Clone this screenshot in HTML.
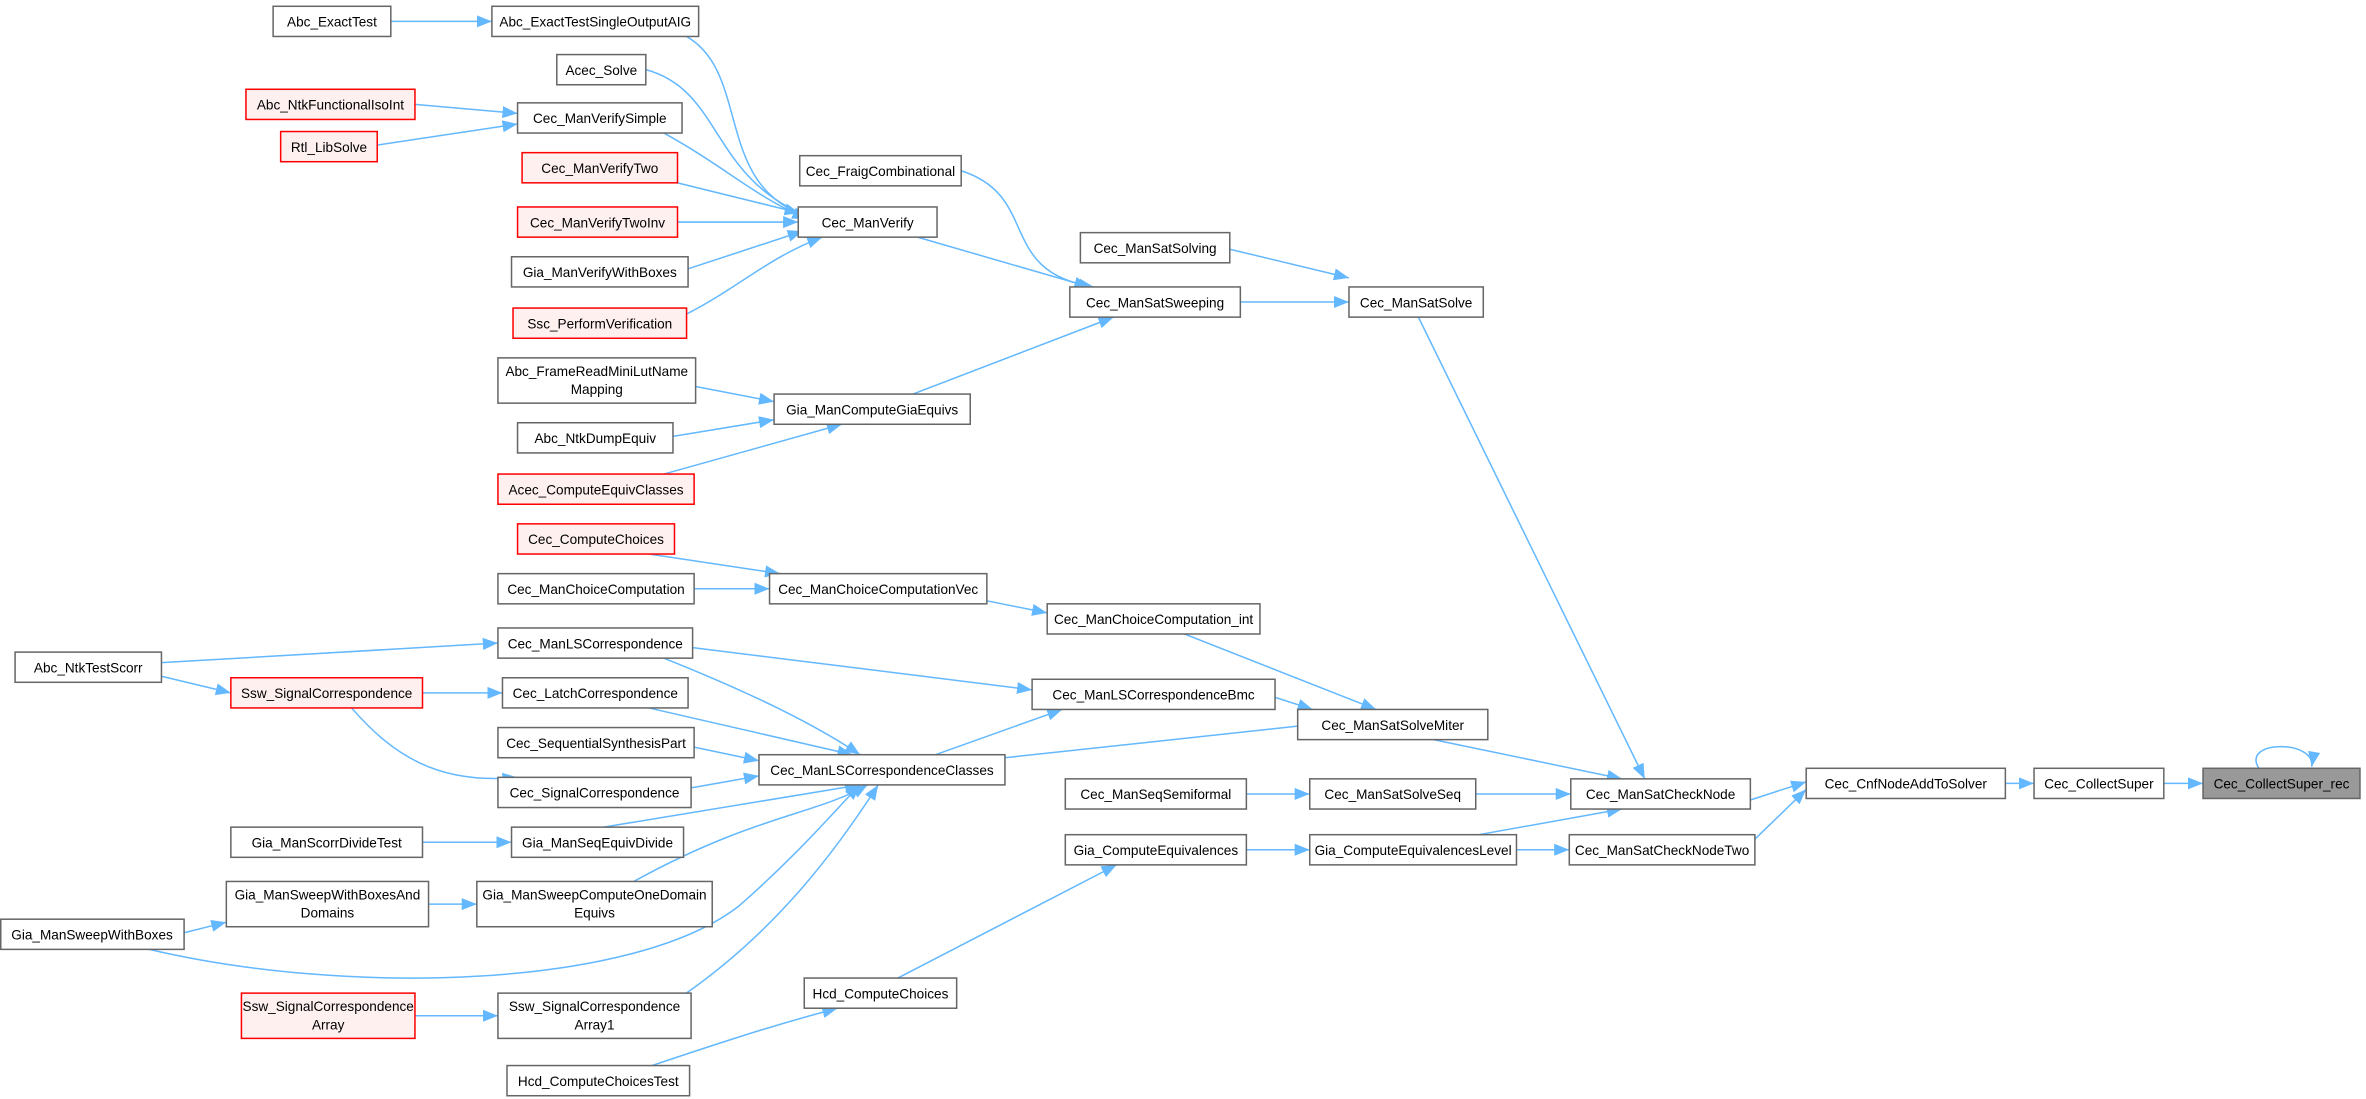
<!DOCTYPE html>
<html><head><meta charset="utf-8"><style>
html,body{margin:0;padding:0;background:#fff;}
svg{display:block;}
text{font-family:"Liberation Sans",Arial,sans-serif;font-size:9px;fill:#000;text-anchor:middle;}
.n{fill:#fff;stroke:#666;stroke-width:1;}
.r{fill:#fff0f0;stroke:#f00;stroke-width:1;}
.g{fill:#999;stroke:#666;stroke-width:1;}
path.e{fill:none;stroke:#63b8ff;stroke-width:1;marker-end:url(#a);}
</style></head><body>
<svg width="2366" height="1099" viewBox="0 0 1568 728" xmlns="http://www.w3.org/2000/svg">
<defs><marker id="a" markerUnits="userSpaceOnUse" markerWidth="10" markerHeight="8" refX="10" refY="4" orient="auto"><path d="M0,0 L10,4 L0,8 z" fill="#63b8ff"/></marker></defs>

<path class="e" d="M259,14 L326,14"/>
<path class="e" d="M455,24 C500,50 470,130 545,146"/>
<path class="e" d="M428,46 C480,60 470,120 540,145"/>
<path class="e" d="M275,69 L343,75"/>
<path class="e" d="M250,96 L343,82"/>
<path class="e" d="M440,88 C480,110 500,130 535,145"/>
<path class="e" d="M449,121 L530,141"/>
<path class="e" d="M449,147 L529,147"/>
<path class="e" d="M456,178 L532,153"/>
<path class="e" d="M455,208 C490,190 510,170 545,157"/>
<path class="e" d="M608,157 L722,190"/>
<path class="e" d="M637,113 C690,130 660,180 725,190"/>
<path class="e" d="M605,261 L738,210"/>
<path class="e" d="M815,165 L894,184"/>
<path class="e" d="M822,200 L894,200"/>
<path class="e" d="M940,210 L1090,516"/>
<path class="e" d="M461,256 L513,266"/>
<path class="e" d="M446,289 L513,278"/>
<path class="e" d="M440,314 L558,281"/>
<path class="e" d="M430,367 L517,380"/>
<path class="e" d="M460,390 L510,390"/>
<path class="e" d="M654,398 L694,406"/>
<path class="e" d="M785,420 L912,470"/>
<path class="e" d="M107,439 L330,426"/>
<path class="e" d="M107,448 L153,459"/>
<path class="e" d="M280,459 L333,459"/>
<path class="e" d="M233,469 C260,500 290,520 343,515"/>
<path class="e" d="M459,429 L684,457"/>
<path class="e" d="M440,436 C500,460 540,480 570,500"/>
<path class="e" d="M430,469 L565,500"/>
<path class="e" d="M460,495 L503,504"/>
<path class="e" d="M458,522 L503,514"/>
<path class="e" d="M400,548 L570,520"/>
<path class="e" d="M420,584 C500,540 540,540 575,520"/>
<path class="e" d="M99,629 C230,660 420,655 490,600 C530,565 555,535 570,520"/>
<path class="e" d="M452,660 C510,620 550,570 582,520"/>
<path class="e" d="M280,558 L339,558"/>
<path class="e" d="M122,618 L150,611"/>
<path class="e" d="M284,599 L316,599"/>
<path class="e" d="M275,673 L330,673"/>
<path class="e" d="M620,500 L704,470"/>
<path class="e" d="M666,502 L870,480"/>
<path class="e" d="M845,462 L870,470"/>
<path class="e" d="M950,490 L1075,516"/>
<path class="e" d="M826,526 L868,526"/>
<path class="e" d="M978,526 L1041,526"/>
<path class="e" d="M980,553 L1075,536"/>
<path class="e" d="M826,563 L868,563"/>
<path class="e" d="M1005,563 L1040,563"/>
<path class="e" d="M595,648 L740,573"/>
<path class="e" d="M432,706 C480,690 510,680 555,668"/>
<path class="e" d="M1160,530 L1197,518"/>
<path class="e" d="M1163,556 L1197,523"/>
<path class="e" d="M1329,519 L1348,519"/>
<path class="e" d="M1434,519 L1460,519"/>
<path class="e" d="M1497,509 C1485,490 1535,490 1532,508"/>

<rect class="n" x="181" y="4" width="78" height="20"/><text x="220" y="17.5">Abc_ExactTest</text>
<rect class="n" x="326" y="4" width="137" height="20"/><text x="394.5" y="17.5">Abc_ExactTestSingleOutputAIG</text>
<rect class="n" x="369" y="36" width="59" height="20"/><text x="398.5" y="49.5">Acec_Solve</text>
<rect class="r" x="163" y="59" width="112" height="20"/><text x="219" y="72.5">Abc_NtkFunctionalIsoInt</text>
<rect class="n" x="343" y="68" width="109" height="20"/><text x="397.5" y="81.5">Cec_ManVerifySimple</text>
<rect class="r" x="186" y="87" width="64" height="20"/><text x="218" y="100.5">Rtl_LibSolve</text>
<rect class="r" x="346" y="101" width="103" height="20"/><text x="397.5" y="114.5">Cec_ManVerifyTwo</text>
<rect class="r" x="343" y="137" width="106" height="20"/><text x="396" y="150.5">Cec_ManVerifyTwoInv</text>
<rect class="n" x="339" y="170" width="117" height="20"/><text x="397.5" y="183.5">Gia_ManVerifyWithBoxes</text>
<rect class="r" x="340" y="204" width="115" height="20"/><text x="397.5" y="217.5">Ssc_PerformVerification</text>
<rect class="n" x="529" y="137" width="92" height="20"/><text x="575" y="150.5">Cec_ManVerify</text>
<rect class="n" x="530" y="103" width="107" height="20"/><text x="583.5" y="116.5">Cec_FraigCombinational</text>
<rect class="n" x="716" y="154" width="99" height="20"/><text x="765.5" y="167.5">Cec_ManSatSolving</text>
<rect class="n" x="709" y="190" width="113" height="20"/><text x="765.5" y="203.5">Cec_ManSatSweeping</text>
<rect class="n" x="894" y="190" width="89" height="20"/><text x="938.5" y="203.5">Cec_ManSatSolve</text>
<rect class="n" x="330" y="237" width="131" height="30"/><text x="395.5" y="249">Abc_FrameReadMiniLutName</text><text x="395.5" y="261">Mapping</text>
<rect class="n" x="513" y="261" width="130" height="20"/><text x="578" y="274.5">Gia_ManComputeGiaEquivs</text>
<rect class="n" x="343" y="280" width="103" height="20"/><text x="394.5" y="293.5">Abc_NtkDumpEquiv</text>
<rect class="r" x="330" y="314" width="130" height="20"/><text x="395" y="327.5">Acec_ComputeEquivClasses</text>
<rect class="r" x="343" y="347" width="104" height="20"/><text x="395" y="360.5">Cec_ComputeChoices</text>
<rect class="n" x="330" y="380" width="130" height="20"/><text x="395" y="393.5">Cec_ManChoiceComputation</text>
<rect class="n" x="510" y="380" width="144" height="20"/><text x="582" y="393.5">Cec_ManChoiceComputationVec</text>
<rect class="n" x="694" y="400" width="141" height="20"/><text x="764.5" y="413.5">Cec_ManChoiceComputation_int</text>
<rect class="n" x="10" y="432" width="97" height="20"/><text x="58.5" y="445.5">Abc_NtkTestScorr</text>
<rect class="n" x="330" y="416" width="129" height="20"/><text x="394.5" y="429.5">Cec_ManLSCorrespondence</text>
<rect class="r" x="153" y="449" width="127" height="20"/><text x="216.5" y="462.5">Ssw_SignalCorrespondence</text>
<rect class="n" x="333" y="449" width="123" height="20"/><text x="394.5" y="462.5">Cec_LatchCorrespondence</text>
<rect class="n" x="684" y="450" width="161" height="20"/><text x="764.5" y="463.5">Cec_ManLSCorrespondenceBmc</text>
<rect class="n" x="860" y="470" width="126" height="20"/><text x="923" y="483.5">Cec_ManSatSolveMiter</text>
<rect class="n" x="330" y="482" width="130" height="20"/><text x="395" y="495.5">Cec_SequentialSynthesisPart</text>
<rect class="n" x="330" y="515" width="128" height="20"/><text x="394" y="528.5">Cec_SignalCorrespondence</text>
<rect class="n" x="503" y="500" width="163" height="20"/><text x="584.5" y="513.5">Cec_ManLSCorrespondenceClasses</text>
<rect class="n" x="706" y="516" width="120" height="20"/><text x="766" y="529.5">Cec_ManSeqSemiformal</text>
<rect class="n" x="868" y="516" width="110" height="20"/><text x="923" y="529.5">Cec_ManSatSolveSeq</text>
<rect class="n" x="1041" y="516" width="119" height="20"/><text x="1100.5" y="529.5">Cec_ManSatCheckNode</text>
<rect class="n" x="1197" y="509" width="132" height="20"/><text x="1263" y="522.5">Cec_CnfNodeAddToSolver</text>
<rect class="n" x="1348" y="509" width="86" height="20"/><text x="1391" y="522.5">Cec_CollectSuper</text>
<rect class="g" x="1460" y="509" width="104" height="20"/><text x="1512" y="522.5">Cec_CollectSuper_rec</text>
<rect class="n" x="153" y="548" width="127" height="20"/><text x="216.5" y="561.5">Gia_ManScorrDivideTest</text>
<rect class="n" x="339" y="548" width="114" height="20"/><text x="396" y="561.5">Gia_ManSeqEquivDivide</text>
<rect class="n" x="706" y="553" width="120" height="20"/><text x="766" y="566.5">Gia_ComputeEquivalences</text>
<rect class="n" x="868" y="553" width="137" height="20"/><text x="936.5" y="566.5">Gia_ComputeEquivalencesLevel</text>
<rect class="n" x="1040" y="553" width="123" height="20"/><text x="1101.5" y="566.5">Cec_ManSatCheckNodeTwo</text>
<rect class="n" x="150" y="584" width="134" height="30"/><text x="217" y="596">Gia_ManSweepWithBoxesAnd</text><text x="217" y="608">Domains</text>
<rect class="n" x="316" y="584" width="156" height="30"/><text x="394" y="596">Gia_ManSweepComputeOneDomain</text><text x="394" y="608">Equivs</text>
<rect class="n" x="0.5" y="609" width="121.5" height="20"/><text x="61" y="622.5">Gia_ManSweepWithBoxes</text>
<rect class="n" x="533" y="648" width="101" height="20"/><text x="583.5" y="661.5">Hcd_ComputeChoices</text>
<rect class="r" x="160" y="658" width="115" height="30"/><text x="217.5" y="670">Ssw_SignalCorrespondence</text><text x="217.5" y="682">Array</text>
<rect class="n" x="330" y="658" width="128" height="30"/><text x="394" y="670">Ssw_SignalCorrespondence</text><text x="394" y="682">Array1</text>
<rect class="n" x="336" y="706" width="121" height="20"/><text x="396.5" y="719.5">Hcd_ComputeChoicesTest</text>
</svg>
</body></html>
